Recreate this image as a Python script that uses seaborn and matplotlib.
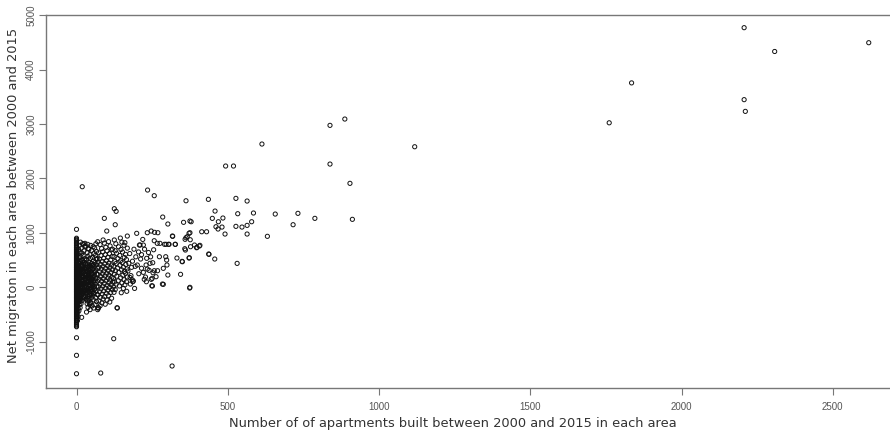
import matplotlib
matplotlib.use("Agg")
import matplotlib.pyplot as plt
import seaborn as sns
import pandas as pd

# Areas where no apartments were built: net migration only
zero_build_migration = [
    1065, 902, 884, 866, 851, 829, 812, 797, 776, 761, 739, 726, 704, 691, 673, 659,
    641, 626, 612, 597, 581, 563, 549, 533, 518, 503, 489, 472, 458, 444, 427, 413,
    399, 386, 371, 362, 346, 331, 322, 306, 293, 281, 267, 256, 243, 229, 219, 204,
    193, 181, 166, 156, 142, 131, 117, 106, 93, 79, 69, 54, 44, 31, 17, 6,
    -9, -21, -34, -44, -59, -71, -82, -96, -107, -121, -134, -149, -161, -176, -187, -201,
    -214, -229, -243, -256, -269, -286, -297, -313, -325, -341, -356, -369, -386, -401,
    -417, -433, -449, -467, -486, -502, -521, -539, -561, -577, -599, -614, -637, -654,
    -673, -689, -709, -724, -926, -1249, -1587,
]

# Small developments (1-30 apartments)
small_built = [
    3, 5, 4, 8, 6, 12, 3, 9, 15, 5, 11, 18, 7, 22, 4, 13, 26, 9, 17, 3, 21, 11, 28, 6,
    15, 24, 8, 19, 12, 27, 4, 16, 9, 23, 6, 14, 29, 10, 20, 5, 17, 26, 8, 13, 22, 3,
    18, 11, 27, 7, 15, 24, 9, 20, 4, 13, 28, 10, 19, 6, 16, 25, 8, 21, 12, 4, 17, 27,
    9, 14, 22, 5, 18, 11, 25, 7, 16, 28, 10, 20, 13, 24, 30, 17, 28, 19,
]
small_migration = [
    -612, -540, -470, -430, -395, -372, -350, -322, -300, -284, -262, -248, -231, -215,
    -198, -185, -170, -152, -140, -125, -112, -98, -85, -72, -60, -48, -35, -22, -10, 2,
    14, 25, 38, 50, 62, 75, 88, 100, 112, 125, 138, 150, 162, 175, 188, 200, 212, 225,
    238, 250, 265, 278, 290, 305, 318, 330, 345, 360, 375, 390, 405, 420, 438, 455, 472,
    490, 508, 525, 545, 565, 585, 605, 628, 650, 672, 695, 720, 745, 772, 800, 830, 795,
    760, -551, 808, 1848,
]

# Densest part of the cloud (3-60 apartments)
core_built = [
    7, 14, 23, 31, 42, 55, 10, 19, 27, 36, 48, 58, 6, 16, 25, 34, 45, 53, 9, 21, 29, 39,
    50, 60, 12, 18, 26, 37, 44, 57, 8, 15, 24, 33, 46, 52, 11, 20, 30, 40, 49, 59, 13,
    22, 32, 43, 51, 56, 17, 28, 35, 47, 54, 38, 41, 26, 19, 33,
    4, 11, 18, 25, 34, 43, 6, 14, 21, 29, 38, 47, 3, 9, 16, 24, 31, 40, 5, 12, 19, 27,
    36, 45, 8, 15, 22, 30, 39, 48, 7, 13,
]
core_migration = [
    -238, -212, -190, -166, -141, -117, -95, -73, -51, -28, -6, 16, 38, 61, 83, 106, 128,
    151, 173, 196, 218, 241, 263, 286, 308, 331, 353, 376, 398, 421, 443, -158, -82, 4,
    93, 182, 271, 357, 434, -207, -121, -33, 52, 141, 226, 315, 401, 119, 67, 248, -16,
    171, 336, 289, 211, 459, 492, 517,
    -143, -128, -104, -77, -52, -31, 9, 27, 48, 71, 97, 118, 139, 162, 187, 204, 233, 259,
    277, 301, 322, 344, 368, 389, -186, -61, 58, 157, 243, 366, 412, 474,
]

# Developments of 30-70 apartments
mid_small_built = [
    33, 45, 38, 52, 61, 35, 47, 66, 41, 56, 32, 49, 63, 37, 54, 44, 68, 34, 58, 42, 51,
    65, 36, 47, 60, 39, 55, 31, 67, 44, 52, 35, 62, 48, 40, 57, 69, 33, 50, 43, 64, 37,
    55, 46, 60, 32, 51, 67, 41, 58, 35, 48, 63, 39, 54, 45, 69, 31, 59, 42, 52, 65, 36,
    49, 61, 40, 56, 33, 67, 46, 53, 38, 62, 44, 58, 35, 66, 50, 41, 60, 55, 47, 64, 39,
    68, 43, 57, 36, 50, 62, 37, 45, 70, 72,
]
mid_small_migration = [
    -455, -410, -370, -340, -318, -300, -280, -262, -245, -230, -212, -198, -185, -170,
    -158, -142, -130, -118, -105, -92, -80, -68, -55, -42, -30, -18, -5, 8, 18, 30, 42,
    55, 66, 78, 90, 102, 114, 126, 138, 150, 162, 174, 186, 198, 210, 222, 234, 246, 258,
    270, 282, 294, 306, 318, 330, 342, 354, 366, 378, 390, 402, 414, 426, 440, 455, 470,
    485, 500, 515, 530, 548, 565, 582, 600, 620, 640, 660, 680, 700, 722, 745, 770, 800,
    712, 530, -320, -380, -250, -10, 120, 790, -294, 837, -375,
]

# Developments of 70-170 apartments
mid_built = [
    72, 78, 95, 84, 110, 74, 101, 88, 116, 79, 93, 106, 71, 85, 99, 113, 76, 90, 104,
    118, 81, 96, 109, 73, 87, 102, 115, 78, 92, 107, 120, 83, 97, 111, 75, 89, 104, 117,
    80, 94, 108, 71, 86, 100, 114, 77, 91, 105, 119, 82, 96, 110, 74, 88, 103, 116, 79,
    93, 107, 72, 85, 99, 113, 76, 90, 104, 118, 81, 95, 109, 73, 87, 101, 115, 83, 97,
    111, 78, 92, 106, 88, 119, 70, 92, 100,
    124, 148, 135, 166, 128, 155, 122, 142, 160, 131, 150, 126, 165, 138, 157, 122, 146,
    168, 133, 153, 125, 162, 140, 158, 129, 149, 167, 136, 155, 123, 144, 163, 131, 151,
    127, 146, 165, 137, 158, 124, 143, 162, 132, 152, 128, 147, 168, 139, 157, 130, 150,
    125, 145, 160, 168, 128, 125, 131, 123,
]
mid_migration = [
    -375, -340, -310, -285, -270, -250, -235, -215, -200, -185, -168, -152, -138, -125,
    -110, -96, -82, -68, -55, -40, -28, -15, -2, 10, 22, 35, 48, 60, 72, 85, 98, 110, 122,
    135, 148, 160, 172, 185, 198, 210, 222, 235, 248, 260, 272, 285, 298, 310, 322, 335,
    348, 360, 372, 385, 398, 410, 422, 435, 448, 462, 476, 490, 505, 520, 535, 552, 568,
    585, 600, 618, 635, 652, 670, 690, 712, 735, 760, 785, 812, 840, 870, 700, -410,
    1267, 1034,
    -92, -99, -380, -73, -40, -20, 5, 25, 45, 60, 82, 100, 103, 120, 140, 160, 175, 190,
    205, 222, 240, 258, 275, 290, 305, 322, 338, 352, 370, 388, 405, 420, 438, 455, 472,
    490, 510, 528, 548, 565, 585, 605, 625, 648, 672, 695, 720, 745, 772, 800, 830, 870,
    905, 820, 942, 1150, 1444, 1396, -944,
]

# Developments of 170-1000 apartments
large_built = [
    173, 182, 194, 201, 212, 232, 243, 186, 188, 177, 180, 184, 199, 210, 221, 234, 247,
    258, 257, 221, 224, 231, 228, 250, 249, 251, 234, 240, 253, 252, 257, 268, 247, 263,
    208, 176, 190, 205, 215, 225, 238, 196, 185, 170, 178, 192, 206, 215, 230, 245, 255,
    219, 235, 257,
    267, 276, 291, 304, 318, 332, 327, 359, 366, 375, 377, 390, 398, 406, 414, 430, 437,
    457, 358, 350, 373, 344, 302, 287, 284, 269, 302, 285, 354, 375, 379, 449, 469, 484,
    461, 468, 481, 491, 527, 547, 564, 579, 564, 531, 375, 374, 316, 362, 436, 527, 564,
    458, 533, 585, 657, 732, 788, 716, 631, 493, 519, 295, 298, 299, 287, 274, 296, 306,
    362, 376, 372, 397, 408, 360, 349, 372, 438, 317, 326, 613, 134, 72, 80,
]
large_migration = [
    441, 367, 386, 410, 520, 533, 441, 103, 116, 180, 215, 140, 992, 777, 777, 1003, 1034,
    1010, 856, 275, 147, 103, 189, 165, 29, 24, 336, 312, 268, 452, 305, 305, 147, 195,
    777, 620, 700, 650, 600, 700, 640, 560, 480, 300, 60, -20, 250, 350, 410, 560, 690,
    880, 1787, 1683,
    808, 808, 790, 790, 937, 538, 790, 882, 929, 1003, 746, 777, 735, 758, 1021, 1021, 612,
    520, 709, 470, 544, 239, 226, 55, 60, 1003, 1163, 1291, 1194, 1218, 1205, 1267, 1205,
    1273, 1113, 1071, 1107, 979, 1120, 1107, 1138, 1205, 979, 440, 0, -13, -1445, 1590,
    1616, 1634, 1585, 1401, 1352, 1365, 1346, 1359, 1267, 1150, 937, 2228, 2228, 562, 501,
    410, 349, 562, 790, 790, 911, 874, 992, 727, 771, 685, 477, 538, 606, 942, 790, 2632,
    -375, -380, -1574,
]

# The largest developments
top_built = [2207, 2619, 2308, 1835, 2207, 2211, 1761, 887, 838, 1118, 838, 904, 912]
top_migration = [4769, 4493, 4332, 3755, 3447, 3232, 3022, 3091, 2975, 2582, 2264, 1910, 1249]

x_ticks = [0, 500, 1000, 1500, 2000, 2500]
y_ticks = [-1000, 0, 1000, 2000, 3000, 4000, 5000]

built = ([0] * len(zero_build_migration) + small_built + core_built + mid_small_built
         + mid_built + large_built + top_built)
migration = (zero_build_migration + small_migration + core_migration + mid_small_migration
             + mid_migration + large_migration + top_migration)
df = pd.DataFrame({"built": built, "migration": migration})

sns.set_style("white")
plt.rcParams["font.family"] = ["DejaVu Sans"]

fig = plt.figure(figsize=(8.9, 4.32), dpi=100)
ax = fig.add_axes([46 / 890, 44 / 432, 1 - 46 / 890, (388 - 15) / 432])

sns.scatterplot(data=df, x="built", y="migration", ax=ax, marker="o", s=9,
                color="black", linewidth=0.7, legend=False)
for coll in ax.collections:
    coll.set_facecolor("none")
    coll.set_edgecolor("#111111")

ax.set_xlim((46 - 76.5) / 0.3025, (890 - 76.5) / 0.3025)
ax.set_ylim(-1849, 5002)
ax.set_xticks(x_ticks)
ax.set_yticks(y_ticks)
tick_font = ["Liberation Sans", "DejaVu Sans"]
ax.set_xticklabels([str(v) for v in x_ticks], family=tick_font, fontsize=7, color="#555555")
ax.set_yticklabels([str(v) for v in y_ticks], family=tick_font, fontsize=7, color="#555555",
                   rotation=90, va="center")

for side in ("left", "bottom", "top"):
    ax.spines[side].set_color("#777777")
    ax.spines[side].set_linewidth(1.0)
ax.spines["right"].set_visible(False)
ax.tick_params(axis="both", direction="out", length=5, width=0.8, color="#777777",
               bottom=True, left=True)
ax.tick_params(axis="x", pad=5)
ax.tick_params(axis="y", pad=2)

ax.set_xlabel("Number of of apartments built between 2000 and 2015 in each area",
              fontsize=9.4, color="#333333", va="center")
ax.set_ylabel("Net migraton in each area between 2000 and 2015",
              fontsize=9.4, color="#333333", va="center")
ax.xaxis.set_label_coords((453 - 46) / 844, (388 - 424) / 373)
ax.yaxis.set_label_coords((14 - 46) / 844, (388 - 195) / 373)

fig.savefig("out.png", dpi=100)
